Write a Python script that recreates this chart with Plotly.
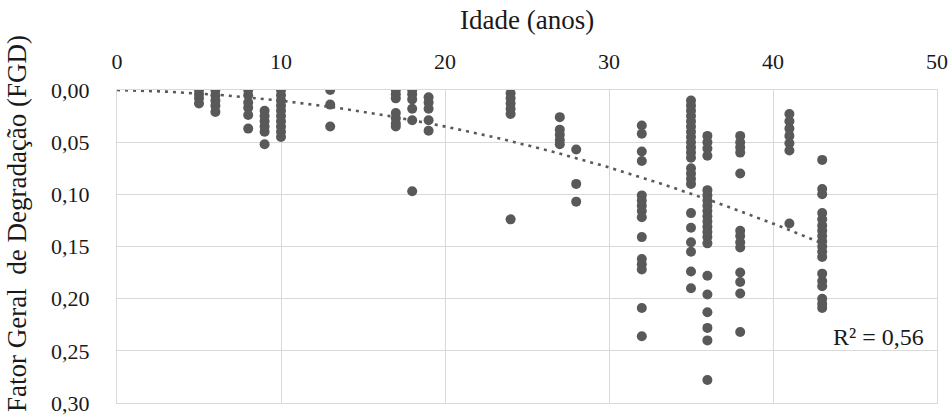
import numpy as np
import plotly.graph_objects as go

# Data: age (years) -> FGD values
age_5 = [0.000, 0.004, 0.008, 0.013]
age_6 = [0.000, 0.005, 0.010, 0.015, 0.021]
age_8 = [0.000, 0.005, 0.012, 0.017, 0.024, 0.037]
age_9 = [0.020, 0.025, 0.030, 0.035, 0.040, 0.052]
age_10 = [0.000, 0.005, 0.010, 0.015, 0.020, 0.025, 0.030, 0.035, 0.040, 0.045]
age_13 = [0.000, 0.014, 0.035]
age_17 = [0.000, 0.004, 0.008, 0.022, 0.027, 0.032, 0.035]
age_18 = [0.000, 0.004, 0.009, 0.018, 0.029, 0.097]
age_19 = [0.007, 0.012, 0.018, 0.029, 0.039]
age_24 = [0.003, 0.008, 0.013, 0.018, 0.023, 0.124]
age_27 = [0.026, 0.038, 0.043, 0.048, 0.052]
age_28 = [0.057, 0.090, 0.107]
age_32 = [0.034, 0.042, 0.059, 0.068, 0.101, 0.106, 0.111, 0.116, 0.122,
          0.141, 0.162, 0.167, 0.172, 0.209, 0.236]
age_35 = [0.010, 0.015, 0.020, 0.025, 0.030, 0.035, 0.040, 0.045, 0.050, 0.055,
          0.060, 0.065, 0.075, 0.080, 0.085, 0.090, 0.118, 0.132, 0.146, 0.155,
          0.174, 0.190]
age_36 = [0.044, 0.050, 0.056, 0.063, 0.096, 0.101, 0.106, 0.111, 0.116, 0.121,
          0.126, 0.131, 0.136, 0.141, 0.147, 0.178, 0.196, 0.213, 0.228, 0.240,
          0.278]
age_38 = [0.044, 0.050, 0.055, 0.060, 0.080, 0.135, 0.140, 0.146, 0.151, 0.175,
          0.184, 0.195, 0.232]
age_41 = [0.023, 0.030, 0.037, 0.044, 0.051, 0.058, 0.128]
age_43 = [0.067, 0.095, 0.100, 0.118, 0.124, 0.130, 0.135, 0.140, 0.145, 0.150,
          0.155, 0.160, 0.176, 0.183, 0.188, 0.200, 0.205, 0.209]

ages = [5, 6, 8, 9, 10, 13, 17, 18, 19, 24, 27, 28, 32, 35, 36, 38, 41, 43]
values = [age_5, age_6, age_8, age_9, age_10, age_13, age_17, age_18, age_19,
          age_24, age_27, age_28, age_32, age_35, age_36, age_38, age_41, age_43]

# Polynomial trendline coefficients (y = c1*x + c2*x^2)
trend_coef = [0.0003, 0.0000725]

x_ticks = [0, 10, 20, 30, 40, 50]
y_ticks = [0.00, 0.05, 0.10, 0.15, 0.20, 0.25, 0.30]
r2_label = "R² = 0,56"

xs = np.concatenate([[a] * len(v) for a, v in zip(ages, values)]).astype(float)
ys = np.concatenate(values)

xt = np.linspace(0, max(ages), 200)
yt = trend_coef[0] * xt + trend_coef[1] * xt ** 2

FONT = "Liberation Serif, Times New Roman, serif"
GRID = "#d9d9d9"

fig = go.Figure()
fig.add_trace(go.Scatter(x=xt, y=yt, mode="lines",
                         line=dict(color="#595959", width=2.6, dash="3px,5px"),
                         hoverinfo="skip", showlegend=False))
fig.add_trace(go.Scatter(x=xs, y=ys, mode="markers",
                         marker=dict(color="#595959", size=10),
                         showlegend=False))

fig.update_layout(
    width=951, height=418,
    margin=dict(l=117, r=14, t=90, b=15),
    paper_bgcolor="white", plot_bgcolor="white",
    separators=", ",
    font=dict(family=FONT, color="#1a1a1a", size=22),
    xaxis=dict(range=[0, 50], side="top", tickvals=x_ticks, automargin=False,
               showgrid=True, gridcolor=GRID, gridwidth=1,
               zeroline=False, showline=True, mirror=True, linecolor=GRID,
               ticks="outside", ticklen=11, tickcolor="rgba(0,0,0,0)",
               tickfont=dict(size=22)),
    yaxis=dict(range=[0.30, 0.0], tickvals=y_ticks, tickformat=".2f",
               automargin=False,
               showgrid=True, gridcolor=GRID, gridwidth=1,
               zeroline=False, showline=True, mirror=True, linecolor=GRID,
               ticks="outside", ticklen=22, tickcolor="rgba(0,0,0,0)",
               tickfont=dict(size=22)),
    annotations=[
        dict(text="Idade (anos)", xref="paper", yref="paper",
             x=0.5, y=(403 - 20) / 313, xanchor="center", yanchor="middle",
             showarrow=False, font=dict(size=27, family=FONT)),
        dict(text="Fator Geral  de Degradação (FGD)", xref="paper", yref="paper",
             x=(17 - 117) / 820, y=(403 - 224) / 313, xanchor="center",
             yanchor="middle", textangle=-90,
             showarrow=False, font=dict(size=27, family=FONT)),
        dict(text=r2_label, xref="x", yref="y", x=49.3, y=0.2365,
             xanchor="right", yanchor="middle", showarrow=False,
             font=dict(size=24, family=FONT)),
    ],
)

fig.write_html(
    "out.html",
    config={"displayModeBar": False},
    post_script="document.body.style.margin='0px';"
                "document.body.style.overflow='hidden';",
)
